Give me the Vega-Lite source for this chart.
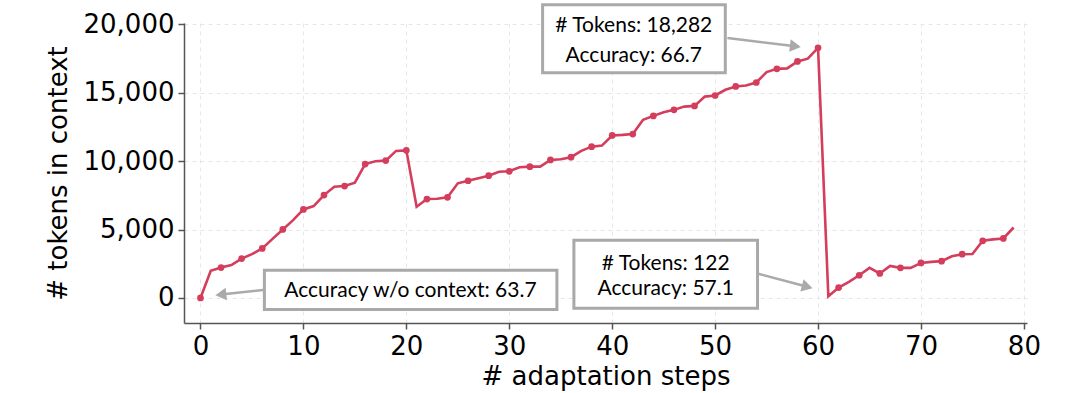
{
  "$schema": "https://vega.github.io/schema/vega-lite/v6.json",
  "width": 843,
  "height": 300,
  "autosize": "none",
  "padding": {"left": 184, "top": 23, "right": 53, "bottom": 70},
  "background": "white",
  "config": {
    "view": {"stroke": null},
    "axis": {
      "labelFont": "DejaVu Sans",
      "titleFont": "DejaVu Sans",
      "labelFontSize": 26,
      "titleFontSize": 26,
      "labelColor": "#000000",
      "titleColor": "#000000",
      "titleFontWeight": "normal",
      "domainColor": "#555555",
      "domainWidth": 1.5,
      "tickColor": "#555555",
      "tickWidth": 1.5,
      "tickSize": 6,
      "labelPadding": 4,
      "gridColor": "#e6e6e6",
      "gridDash": [4, 4],
      "gridWidth": 1
    }
  },
  "datasets": {
    "series": [
      {"step": 0, "tokens": 0},
      {"step": 1, "tokens": 1980},
      {"step": 2, "tokens": 2220},
      {"step": 3, "tokens": 2400},
      {"step": 4, "tokens": 2880},
      {"step": 5, "tokens": 3200},
      {"step": 6, "tokens": 3620},
      {"step": 7, "tokens": 4320},
      {"step": 8, "tokens": 5010},
      {"step": 9, "tokens": 5690},
      {"step": 10, "tokens": 6470},
      {"step": 11, "tokens": 6720},
      {"step": 12, "tokens": 7520},
      {"step": 13, "tokens": 8130},
      {"step": 14, "tokens": 8180},
      {"step": 15, "tokens": 8430},
      {"step": 16, "tokens": 9790},
      {"step": 17, "tokens": 9990},
      {"step": 18, "tokens": 10040},
      {"step": 19, "tokens": 10750},
      {"step": 20, "tokens": 10790},
      {"step": 21, "tokens": 6670},
      {"step": 22, "tokens": 7230},
      {"step": 23, "tokens": 7250},
      {"step": 24, "tokens": 7360},
      {"step": 25, "tokens": 8380},
      {"step": 26, "tokens": 8570},
      {"step": 27, "tokens": 8750},
      {"step": 28, "tokens": 8940},
      {"step": 29, "tokens": 9230},
      {"step": 30, "tokens": 9260},
      {"step": 31, "tokens": 9550},
      {"step": 32, "tokens": 9600},
      {"step": 33, "tokens": 9600},
      {"step": 34, "tokens": 10090},
      {"step": 35, "tokens": 10140},
      {"step": 36, "tokens": 10290},
      {"step": 37, "tokens": 10750},
      {"step": 38, "tokens": 11060},
      {"step": 39, "tokens": 11140},
      {"step": 40, "tokens": 11880},
      {"step": 41, "tokens": 11920},
      {"step": 42, "tokens": 11980},
      {"step": 43, "tokens": 13020},
      {"step": 44, "tokens": 13310},
      {"step": 45, "tokens": 13580},
      {"step": 46, "tokens": 13750},
      {"step": 47, "tokens": 13990},
      {"step": 48, "tokens": 14040},
      {"step": 49, "tokens": 14720},
      {"step": 50, "tokens": 14800},
      {"step": 51, "tokens": 15220},
      {"step": 52, "tokens": 15460},
      {"step": 53, "tokens": 15530},
      {"step": 54, "tokens": 15750},
      {"step": 55, "tokens": 16510},
      {"step": 56, "tokens": 16750},
      {"step": 57, "tokens": 16780},
      {"step": 58, "tokens": 17290},
      {"step": 59, "tokens": 17490},
      {"step": 60, "tokens": 18282},
      {"step": 61, "tokens": 122},
      {"step": 62, "tokens": 760},
      {"step": 63, "tokens": 1170},
      {"step": 64, "tokens": 1660},
      {"step": 65, "tokens": 2200},
      {"step": 66, "tokens": 1790},
      {"step": 67, "tokens": 2340},
      {"step": 68, "tokens": 2200},
      {"step": 69, "tokens": 2200},
      {"step": 70, "tokens": 2560},
      {"step": 71, "tokens": 2640},
      {"step": 72, "tokens": 2690},
      {"step": 73, "tokens": 3050},
      {"step": 74, "tokens": 3200},
      {"step": 75, "tokens": 3210},
      {"step": 76, "tokens": 4180},
      {"step": 77, "tokens": 4280},
      {"step": 78, "tokens": 4350},
      {"step": 79, "tokens": 5150}
    ],
    "boxes": [
      {"name": "peak", "x1": 33.24, "x2": 50.99, "y1": 21443, "y2": 16462},
      {"name": "reset", "x1": 36.28, "x2": 54.12, "y1": 4227, "y2": -760},
      {"name": "base", "x1": 6.21, "x2": 34.63, "y1": 2029, "y2": -850}
    ],
    "labels": [
      {"x": 42.1, "y": 19465, "text": "# Tokens: 18,282"},
      {"x": 42.1, "y": 17215, "text": "Accuracy: 66.7"},
      {"x": 45.2, "y": 2029, "text": "# Tokens: 122"},
      {"x": 45.2, "y": 250, "text": "Accuracy: 57.1"},
      {"x": 20.4, "y": 73, "text": "Accuracy w/o context: 63.7"}
    ],
    "arrows": [
      {"id": "peak", "x1": 51.2, "y1": 19004, "x2": 57.8, "y2": 18403},
      {"id": "reset", "x1": 54.1, "y1": 1788, "x2": 58.95, "y2": 821},
      {"id": "base", "x1": 6.48, "y1": 615, "x2": 1.98, "y2": 249}
    ]
  },
  "layer": [
    {
      "data": {"name": "series"},
      "mark": {"type": "line", "color": "#d43d5c", "strokeWidth": 2.6},
      "encoding": {
        "x": {
          "field": "step", "type": "quantitative",
          "scale": {"domain": [-1.6, 80.3], "nice": false, "zero": false},
          "axis": {"title": "# adaptation steps", "values": [0, 10, 20, 30, 40, 50, 60, 70, 80], "grid": true, "titlePadding": 4}
        },
        "y": {
          "field": "tokens", "type": "quantitative",
          "scale": {"domain": [-1830, 20100], "nice": false, "zero": false},
          "axis": {"title": "# tokens in context", "values": [0, 5000, 10000, 15000, 20000], "format": ",d", "grid": true, "titlePadding": 12}
        }
      }
    },
    {
      "data": {"name": "series"},
      "transform": [{"filter": "datum.step % 2 == 0"}],
      "mark": {"type": "point", "filled": true, "color": "#d43d5c", "size": 45, "opacity": 1},
      "encoding": {
        "x": {"field": "step", "type": "quantitative"},
        "y": {"field": "tokens", "type": "quantitative"}
      }
    },
    {
      "data": {"name": "arrows"},
      "mark": {"type": "rule", "color": "#aaaaaa", "strokeWidth": 2.5},
      "encoding": {
        "x": {"field": "x1", "type": "quantitative"},
        "y": {"field": "y1", "type": "quantitative"},
        "x2": {"field": "x2"},
        "y2": {"field": "y2"}
      }
    },
    {
      "data": {"name": "arrows"},
      "transform": [{"filter": "datum.id == 'peak'"}],
      "mark": {"type": "point", "shape": "triangle-right", "filled": true, "color": "#aaaaaa", "opacity": 1, "size": 160, "angle": 7},
      "encoding": {
        "x": {"field": "x2", "type": "quantitative"},
        "y": {"field": "y2", "type": "quantitative"}
      }
    },
    {
      "data": {"name": "arrows"},
      "transform": [{"filter": "datum.id == 'reset'"}],
      "mark": {"type": "point", "shape": "triangle-right", "filled": true, "color": "#aaaaaa", "opacity": 1, "size": 160, "angle": 15},
      "encoding": {
        "x": {"field": "x2", "type": "quantitative"},
        "y": {"field": "y2", "type": "quantitative"}
      }
    },
    {
      "data": {"name": "arrows"},
      "transform": [{"filter": "datum.id == 'base'"}],
      "mark": {"type": "point", "shape": "triangle-left", "filled": true, "color": "#aaaaaa", "opacity": 1, "size": 160, "angle": -6},
      "encoding": {
        "x": {"field": "x2", "type": "quantitative"},
        "y": {"field": "y2", "type": "quantitative"}
      }
    },
    {
      "data": {"name": "boxes"},
      "mark": {"type": "rect", "fill": "white", "stroke": "#a9a9a9", "strokeWidth": 3},
      "encoding": {
        "x": {"field": "x1", "type": "quantitative"},
        "y": {"field": "y1", "type": "quantitative"},
        "x2": {"field": "x2"},
        "y2": {"field": "y2"}
      }
    },
    {
      "data": {"name": "labels"},
      "mark": {"type": "text", "font": "Lato", "fontSize": 21, "color": "#000000", "align": "center", "baseline": "alphabetic"},
      "encoding": {
        "x": {"field": "x", "type": "quantitative"},
        "y": {"field": "y", "type": "quantitative"},
        "text": {"field": "text", "type": "nominal"}
      }
    }
  ]
}
